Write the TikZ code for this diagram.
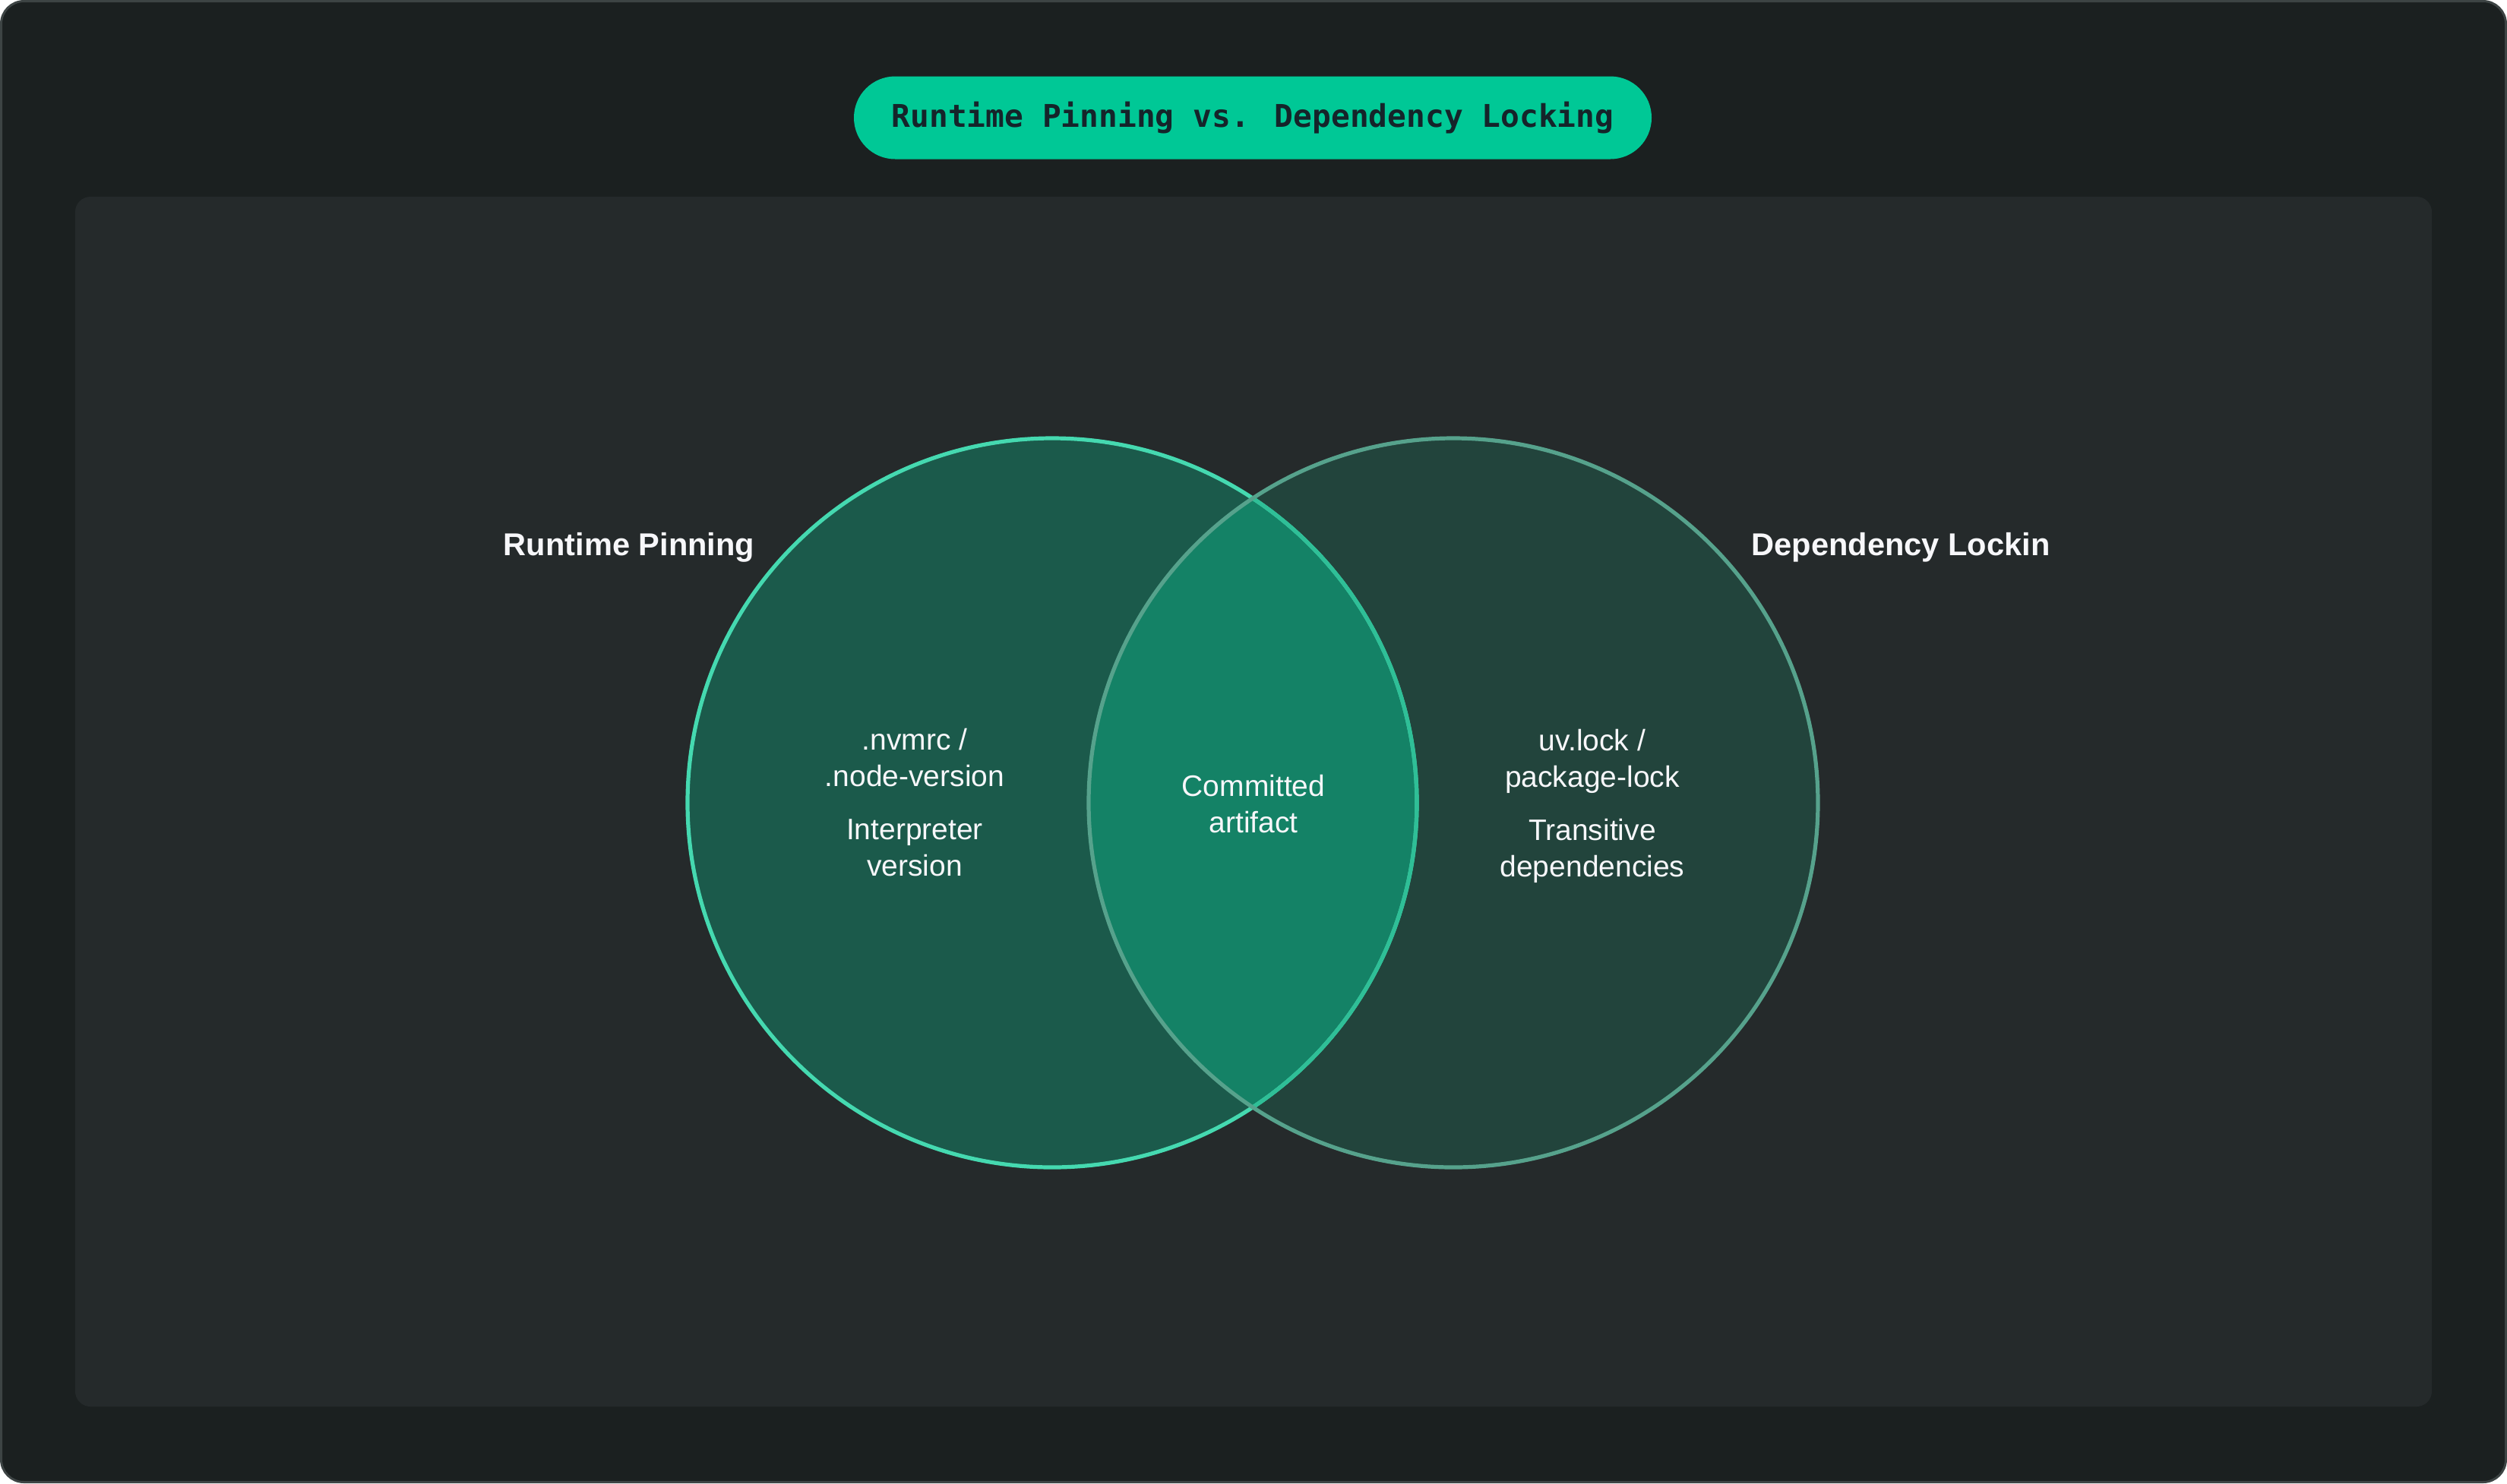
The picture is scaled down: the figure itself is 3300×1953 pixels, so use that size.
\documentclass[tikz,border=0pt]{standalone}
\usepackage{fontspec}
\setmainfont{Liberation Sans}
\newfontfamily\titlemono{DejaVu Sans Mono}
\definecolor{bgouter}{HTML}{1B2020}
\definecolor{frameline}{HTML}{3D4444}
\definecolor{panelbg}{HTML}{252A2B}
\definecolor{pill}{HTML}{00C896}
\definecolor{pilltext}{HTML}{15242A}
\definecolor{leftfill}{HTML}{1B5A4B}
\definecolor{rightfill}{HTML}{22443C}
\definecolor{lensfill}{HTML}{148266}
\definecolor{leftstroke}{HTML}{45D9B0}
\definecolor{leftstrokein}{HTML}{2FBF97}
\definecolor{rightstroke}{HTML}{56A28C}
\definecolor{labelwhite}{HTML}{F7F7FA}
\tikzset{
  setlabel/.style={text=labelwhite, font=\fontsize{10.4pt}{12.5pt}\selectfont\bfseries, inner sep=0pt},
  bodytext/.style={text=labelwhite, font=\fontsize{9.75pt}{12pt}\selectfont, align=center, inner sep=0pt},
  titlepill/.style={fill=pill, text=pilltext, rounded corners=13.6pt, minimum width=262.5pt, minimum height=27.25pt, font=\titlemono\bfseries\fontsize{10.3pt}{12pt}\selectfont, inner sep=0pt},
  ring/.style={line width=1.3pt}
}
\begin{document}
\begin{tikzpicture}[x=0.25pt,y=-0.25pt]
\path[use as bounding box] (0,0) rectangle (3300,1953);
\draw[fill=bgouter, draw=frameline, line width=0.75pt, rounded corners=7.5pt] (1.5,1.5) rectangle (3298.5,1951.5);
\fill[panelbg, rounded corners=5pt] (99,259) rectangle (3201,1852);
\node[titlepill] (title) at (1649,155) {Runtime Pinning vs. Dependency Locking};
\coordinate (L) at (1385,1057);
\coordinate (R) at (1913,1057);
\fill[leftfill] (L) circle[radius=480];
\fill[rightfill] (R) circle[radius=480];
\begin{scope}
  \clip (L) circle[radius=480];
  \fill[lensfill] (R) circle[radius=480];
\end{scope}
\draw[ring, leftstroke] (L) circle[radius=480];
\begin{scope}
  \clip (R) circle[radius=480];
  \draw[ring, leftstrokein] (L) circle[radius=480];
\end{scope}
\draw[ring, rightstroke] (R) circle[radius=480];
\node[setlabel] (lblL) at (828,721) {Runtime Pinning};
\node[setlabel] (lblR) at (2502,721) {Dependency Lockin};
\node[bodytext] (fileL) at (1204,998) {.nvmrc /\\.node-version};
\node[bodytext] (descL) at (1204,1116) {Interpreter\\version};
\node[bodytext] (mid) at (1650,1059) {Committed\\artifact};
\node[bodytext] (fileR) at (2096,1002) {uv.lock /\\package-lock};
\node[bodytext] (descR) at (2096,1120) {Transitive\\dependencies};
\end{tikzpicture}
\end{document}
